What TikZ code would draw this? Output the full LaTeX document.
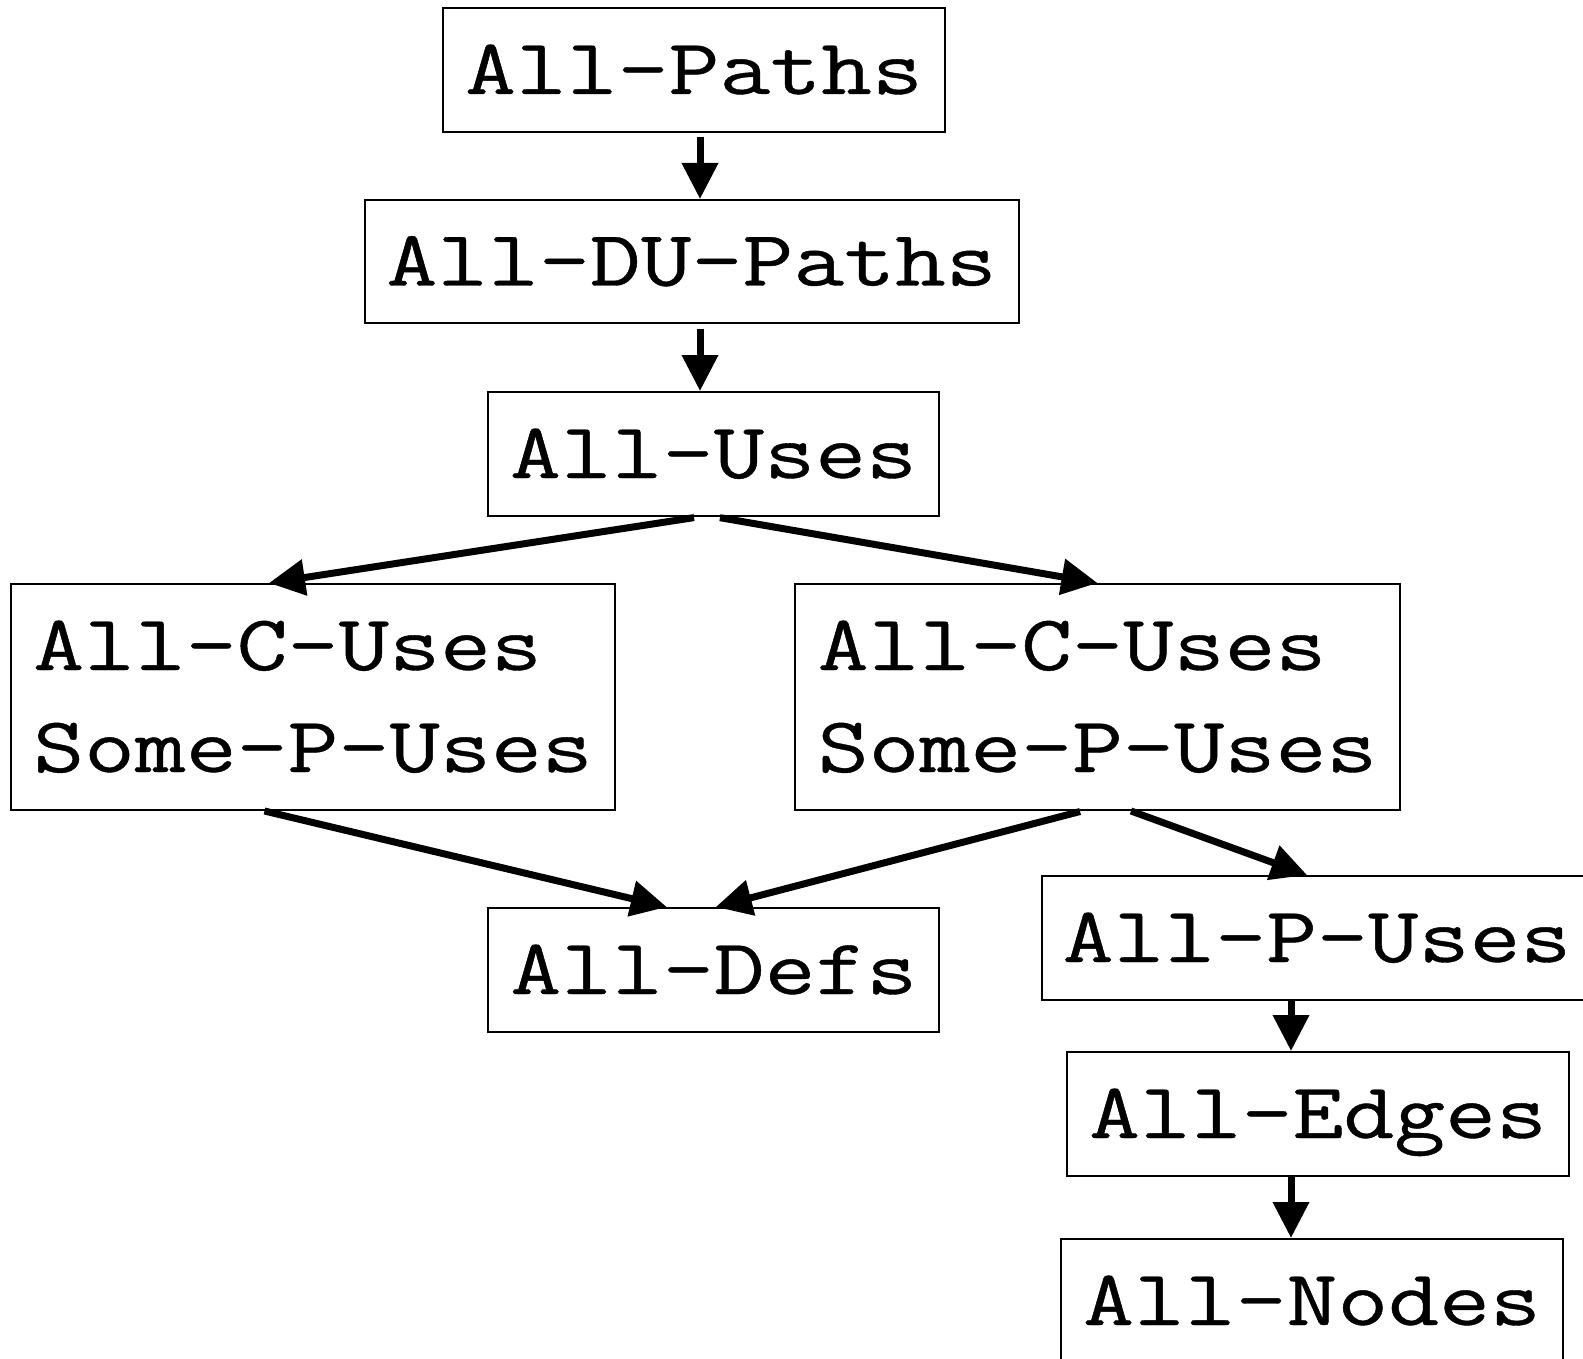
\documentclass[tikz,border=0pt]{standalone}
\usepackage{graphicx}
\usepackage{fontspec}
\newfontfamily\cmono[FakeBold=0.5]{lmmono12-regular.otf}
\usetikzlibrary{arrows.meta}
\newcommand\wide[1]{\scalebox{1.25}[1]{#1}}
\begin{document}
\begin{tikzpicture}[x=1pt,y=-1pt,
  box/.style={draw=black, line width=2pt, inner sep=0pt, rectangle,
    font={\cmono\fontsize{79}{102}\selectfont},
    text height=48pt, text depth=0pt},
  twobox/.style={box, align=left, text height=150pt, text depth=0pt},
  arr/.style={line width=7pt, -{Triangle[length=36pt,width=35pt]}}]
\useasboundingbox (0,0) rectangle (1583,1359);
\node[box, minimum width=502pt, minimum height=124pt] (ap) at (694,70) {\wide{All-Paths}};
\node[box, minimum width=654pt, minimum height=123pt] (du) at (691.6,261.5) {\wide{All-DU-Paths}};
\node[box, minimum width=451pt, minimum height=124pt] (au) at (713.5,454) {\wide{All-Uses}};
\node[twobox, minimum width=604pt, minimum height=226pt] (lc) at (313,697) {\wide{All-C-Uses}\\\wide{Some-P-Uses}};
\node[twobox, minimum width=605pt, minimum height=226pt] (rc) at (1097.5,697) {\wide{All-C-Uses}\\\wide{Some-P-Uses}};
\node[box, minimum width=451pt, minimum height=124pt] (ad) at (713.8,970) {\wide{All-Defs}};
\node[box, minimum width=550pt, minimum height=124pt] (pu) at (1317,938) {\wide{All-P-Uses}};
\node[box, minimum width=502pt, minimum height=124pt] (ae) at (1318,1114) {\wide{All-Edges}};
\node[box, minimum width=502pt, minimum height=124pt] (an) at (1312,1301) {\wide{All-Nodes}};
\draw[arr, shorten <=4pt] ([xshift=6pt]ap.south) -- ([xshift=8.4pt]du.north);
\draw[arr, shorten <=5pt] ([xshift=8.4pt]du.south) -- ([xshift=-13.5pt]au.north);
\draw[arr, shorten <=4pt] ([xshift=-15.5pt]au.south) -- ([xshift=-44pt]lc.north);
\draw[arr, shorten <=4pt] ([xshift=2.5pt]au.south) -- (rc.north);
\draw[arr] ([xshift=-48.5pt]lc.south) -- ([xshift=-47pt]ad.north);
\draw[arr, shorten <=2pt] ([xshift=-15.5pt]rc.south) -- ([xshift=2pt]ad.north);
\draw[arr] ([xshift=33.5pt]rc.south) -- ([xshift=-10pt]pu.north);
\draw[arr] ([xshift=-26pt]pu.south) -- ([xshift=-27pt]ae.north);
\draw[arr] ([xshift=-27pt]ae.south) -- ([xshift=-21pt]an.north);
\end{tikzpicture}
\end{document}
